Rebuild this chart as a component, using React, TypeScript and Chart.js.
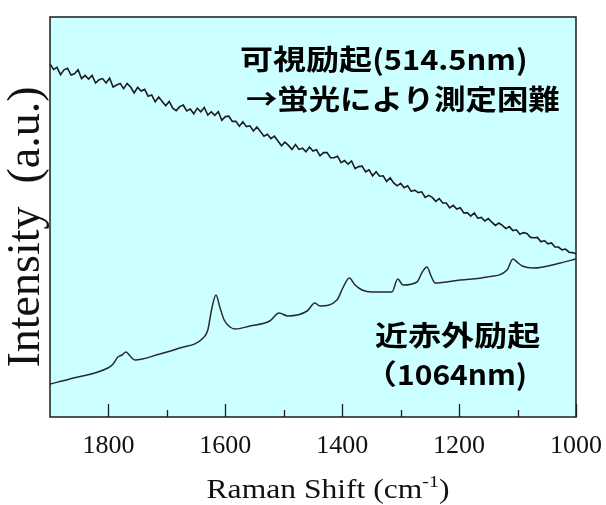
import React, { useEffect, useRef } from "react";
import { Chart, registerables } from "chart.js";

Chart.register(...registerables);

// ---- data ----
const X_MIN = 1000;
const X_MAX = 1900;
const MAJOR_TICKS = [1800, 1600, 1400, 1200, 1000];
const MINOR_TICKS = [1700, 1500, 1300, 1100];
const TICK_LABELS = ["1800", "1600", "1400", "1200", "1000"];

// visible excitation (514.5 nm): sampled every 6 cm-1 from 1900 down to 1000
const VIS_START = 1900;
const VIS_STEP = 6;
const VIS_VALUES = [
  88.3, 86.9, 87.4, 85.6, 86.8, 87.2, 85.5, 85.8, 86.8, 84.6,
  85.4, 84.5, 85.4, 83.5, 84.3, 84.6, 83.5, 84.7, 82.5, 83.0,
  83.4, 82.1, 83.4, 82.5, 81.0, 82.4, 81.5, 81.9, 80.2, 80.5,
  78.8, 80.0, 78.9, 77.8, 78.9, 77.2, 76.6, 77.6, 78.0, 76.5,
  77.0, 75.8, 77.2, 76.3, 77.4, 75.5, 76.3, 75.4, 76.3, 74.2,
  75.1, 75.2, 73.9, 73.9, 72.7, 73.8, 72.6, 72.8, 71.5, 72.5,
  71.4, 70.2, 70.7, 69.6, 70.2, 69.0, 67.8, 68.7, 67.9, 66.9,
  68.1, 66.9, 67.2, 66.3, 67.5, 66.5, 66.8, 65.3, 66.1, 66.1,
  64.8, 64.8, 65.2, 63.6, 64.1, 63.2, 64.0, 62.1, 62.6, 62.7,
  61.3, 61.8, 60.3, 61.3, 60.2, 60.3, 58.9, 59.8, 58.5, 57.8,
  58.4, 57.3, 57.8, 56.4, 56.7, 56.1, 56.3, 54.9, 55.4, 54.9,
  53.9, 54.6, 53.5, 53.5, 52.3, 52.9, 52.0, 52.3, 51.0, 51.1,
  50.2, 51.0, 49.7, 49.9, 49.0, 49.6, 48.7, 47.9, 48.5, 47.9,
  47.1, 47.6, 46.6, 46.8, 45.7, 46.1, 45.9, 44.9, 44.8, 44.9,
  43.8, 44.1, 43.3, 43.5, 42.5, 42.5, 41.8, 42.0, 41.2, 41.1,
  40.8,
];

// near-infrared excitation (1064 nm)
const NIR_SHIFT = [
  1900, 1866, 1801, 1792, 1784, 1777, 1770, 1763, 1755, 1712,
  1678, 1638, 1630, 1623, 1616, 1609, 1602, 1592, 1583, 1558,
  1524, 1508, 1493, 1460, 1447, 1438, 1409, 1399, 1388, 1378,
  1366, 1349, 1315, 1305, 1296, 1272, 1263, 1255, 1248, 1241,
  1198, 1152, 1118, 1108, 1099, 1092, 1073, 1027, 1000,
];
const NIR_VALUES = [
  8.25, 9.5, 12.25, 13.25, 15.0, 15.5, 16.25, 15.25, 14.25, 15.75,
  17.25, 19.75, 21.75, 27.25, 30.5, 27.25, 24.25, 22.5, 22.0, 22.75,
  24.0, 26.0, 25.25, 26.5, 28.5, 27.75, 29.25, 32.25, 34.75, 33.0,
  31.75, 31.25, 31.25, 34.5, 33.0, 33.75, 36.25, 37.5, 35.25, 33.5,
  34.25, 35.0, 36.75, 39.5, 38.5, 37.75, 37.25, 38.5, 39.5,
];

const VIS_LINE1_JP = "可視励起";
const VIS_LINE1_EN = "(514.5nm)";
const VIS_LINE2 = "→蛍光により測定困難";
const NIR_LINE1 = "近赤外励起";
const NIR_LINE2_PAREN = "（";
const NIR_LINE2_EN = "1064nm)";
const Y_TITLE = "Intensity  (a.u.)";
const X_TITLE_MAIN = "Raman Shift (cm";
const X_TITLE_SUP = "-1";
const X_TITLE_END = ")";

const BG = "#CCFFFF";
const INK = "#1c1c1c";
const SERIF = "'Liberation Serif', 'Times New Roman', serif";
const JP = "'Noto Sans CJK JP', 'Noto Sans', sans-serif";

const decorPlugin = {
  id: "decor",
  beforeDraw(chart: any) {
    const { ctx, chartArea: a } = chart;
    ctx.save();
    ctx.fillStyle = BG;
    ctx.fillRect(a.left, a.top, a.right - a.left, a.bottom - a.top);
    ctx.restore();
  },
  afterDraw(chart: any) {
    const { ctx, chartArea: a } = chart;
    const xs = chart.scales.x;
    ctx.save();
    // frame
    ctx.strokeStyle = INK;
    ctx.lineWidth = 1.5;
    ctx.strokeRect(a.left, a.top, a.right - a.left, a.bottom - a.top);
    // inward ticks
    ctx.lineWidth = 1.3;
    ctx.beginPath();
    MAJOR_TICKS.forEach((v) => {
      const px = Math.round(xs.getPixelForValue(v)) + 0.5;
      ctx.moveTo(px, a.bottom);
      ctx.lineTo(px, a.bottom - 13);
    });
    MINOR_TICKS.forEach((v) => {
      const px = Math.round(xs.getPixelForValue(v)) + 0.5;
      ctx.moveTo(px, a.bottom);
      ctx.lineTo(px, a.bottom - 7);
    });
    ctx.stroke();

    // annotations
    ctx.fillStyle = "#000";
    ctx.textBaseline = "middle";
    ctx.textAlign = "left";
    ctx.font = `bold 28px ${JP}`;
    const drawStretched = (t: string, x: number, y: number, sx: number) => {
      ctx.save();
      ctx.translate(x, y);
      ctx.scale(sx, 1);
      ctx.fillText(t, 0, 0);
      ctx.restore();
      return ctx.measureText(t).width * sx;
    };
    const w1 = drawStretched(VIS_LINE1_JP, 240, 59, 1.18);
    drawStretched(VIS_LINE1_EN, 240 + w1, 59, 1.1);
    drawStretched(VIS_LINE2, 246, 99, 1.12);
    drawStretched(NIR_LINE1, 375, 335, 1.18);
    const wp = drawStretched(NIR_LINE2_PAREN, 364, 374, 1.18);
    drawStretched(NIR_LINE2_EN, 364 + wp, 374, 1.07);

    // x title with superscript
    ctx.fillStyle = "#111";
    const sx = 1.17;
    ctx.font = `27px ${SERIF}`;
    const m1 = ctx.measureText(X_TITLE_MAIN).width;
    const m3 = ctx.measureText(X_TITLE_END).width;
    ctx.font = `17px ${SERIF}`;
    const m2 = ctx.measureText(X_TITLE_SUP).width;
    const total = (m1 + m2 + m3) * sx;
    const cx = 328;
    const cy = 491;
    ctx.save();
    ctx.translate(cx - total / 2, cy);
    ctx.scale(sx, 1);
    ctx.font = `27px ${SERIF}`;
    ctx.fillText(X_TITLE_MAIN, 0, 0);
    ctx.font = `17px ${SERIF}`;
    ctx.fillText(X_TITLE_SUP, m1, -8);
    ctx.font = `27px ${SERIF}`;
    ctx.fillText(X_TITLE_END, m1 + m2, 0);
    ctx.restore();

    // y title
    ctx.save();
    ctx.translate(27, 227);
    ctx.rotate(-Math.PI / 2);
    ctx.textAlign = "center";
    ctx.font = `46px ${SERIF}`;
    ctx.fillText(Y_TITLE, 0, 0);
    ctx.restore();

    ctx.restore();
  },
};

export default function App() {
  const ref = useRef<HTMLCanvasElement | null>(null);
  useEffect(() => {
    if (!ref.current) return;
    const visData = VIS_VALUES.map((v, i) => ({ x: VIS_START - i * VIS_STEP, y: v }));
    const nirData = NIR_SHIFT.map((s, i) => ({ x: s, y: NIR_VALUES[i] }));
    const chart = new Chart(ref.current, {
      type: "line",
      data: {
        datasets: [
          {
            label: "vis",
            data: visData,
            borderColor: INK,
            borderWidth: 1.6,
            pointRadius: 0,
            tension: 0,
          },
          {
            label: "nir",
            data: nirData,
            borderColor: "#2a2a2a",
            borderWidth: 1.5,
            pointRadius: 0,
            cubicInterpolationMode: "monotone",
          },
        ],
      },
      options: {
        responsive: false,
        animation: false,
        events: [],
        layout: { padding: { left: 50, right: 30, top: 17, bottom: 0 } },
        plugins: { legend: { display: false }, tooltip: { enabled: false }, title: { display: false } },
        scales: {
          x: {
            type: "linear",
            reverse: true,
            min: X_MIN,
            max: X_MAX,
            afterBuildTicks: (scale: any) => {
              scale.ticks = MAJOR_TICKS.map((v) => ({ value: v }));
            },
            afterFit: (scale: any) => {
              scale.height = 88;
              scale.paddingLeft = 0;
              scale.paddingRight = 0;
            },
            grid: { display: false, drawTicks: false },
            border: { display: false },
            ticks: {
              autoSkip: false,
              maxRotation: 0,
              padding: 14,
              color: "#111",
              font: { family: "Liberation Serif", size: 26 },
              callback: (v: any) => {
                const idx = MAJOR_TICKS.indexOf(Number(v));
                return idx >= 0 ? TICK_LABELS[idx] : "";
              },
            },
          },
          y: {
            type: "linear",
            min: 0,
            max: 100,
            display: false,
          },
        },
      },
      plugins: [decorPlugin],
    });
    return () => chart.destroy();
  }, []);
  return (
    <div style={{ position: "fixed", left: 0, top: 0, width: 606, height: 505, background: "#fff" }}>
      <canvas ref={ref} width={606} height={505} style={{ display: "block" }} />
    </div>
  );
}
